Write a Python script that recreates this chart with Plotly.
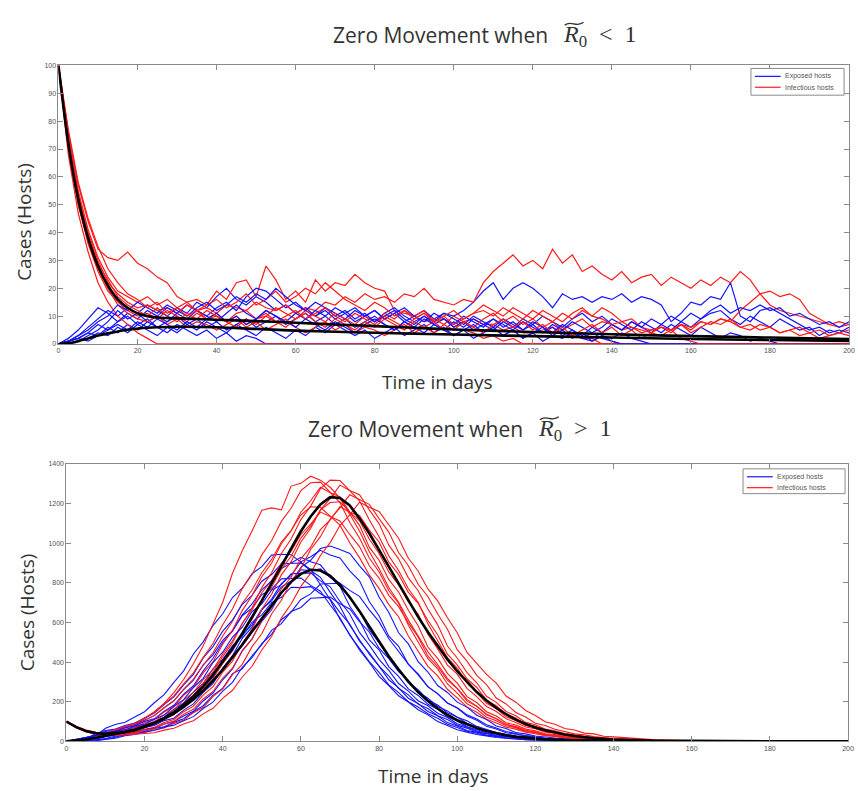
import plotly.graph_objects as go

W, H = 858, 791

# ---------------- time grids (days) ----------------
days_low = [i * 2.5 for i in range(81)]                              # 0 .. 200
days_high = [i * 2.5 for i in range(57)] + [150, 160, 170, 180, 190, 200]

# ---------------- R0 < 1 : stochastic realisations ----------------
inf_low = [
    [100, 76, 57, 44, 34, 31, 30, 33, 29, 27, 24, 22, 17, 15, 16, 14, 19, 16, 22, 23,
     17, 28, 23, 16, 19, 15, 23, 19, 22, 21, 25, 22, 20, 19, 12, 11, 10, 12, 8, 9,
     6, 8, 9, 7, 7, 5, 6, 4, 4, 5, 6, 4, 3, 2, 2, 0, 0, 0, 0, 0,
     0, 0, 0, 0, 0, 0, 0, 0, 0, 0, 0, 0, 0, 0, 0, 0, 0, 0, 0, 0, 0],
    [100, 73, 53, 40, 30, 22, 18, 15, 13, 14, 12, 13, 11, 14, 12, 13, 11, 14, 13, 12,
     15, 13, 12, 14, 11, 13, 12, 15, 14, 17, 15, 18, 16, 17, 15, 18, 17, 20, 16, 15,
     14, 16, 15, 22, 26, 29, 32, 28, 30, 27, 34, 29, 32, 26, 28, 25, 23, 26, 22, 24,
     25, 21, 24, 22, 20, 23, 21, 24, 22, 26, 23, 18, 14, 12, 11, 10, 9, 8, 7, 8, 7],
    [100, 70, 50, 36, 26, 19, 15, 12, 10, 11, 9, 12, 10, 8, 11, 9, 10, 8, 11, 12,
     9, 10, 13, 11, 9, 12, 10, 8, 11, 9, 7, 10, 8, 11, 9, 12, 10, 8, 9, 7,
     10, 8, 6, 9, 11, 8, 10, 7, 9, 6, 8, 5, 7, 9, 6, 8, 7, 5, 6, 4,
     5, 6, 4, 7, 5, 8, 7, 9, 8, 12, 15, 18, 19, 17, 18, 16, 11, 9, 7, 6, 7],
    [100, 68, 47, 33, 22, 15, 10, 7, 4, 2, 0, 0, 0, 0, 0, 0, 0, 0, 0, 0,
     0, 0, 0, 0, 0, 0, 0, 0, 0, 0, 0, 0, 0, 0, 0, 0, 0, 0, 0, 0,
     0, 0, 0, 0, 0, 0, 0, 0, 0, 0, 0, 0, 0, 0, 0, 0, 0, 0, 0, 0,
     0, 0, 0, 0, 0, 0, 0, 0, 0, 0, 0, 0, 0, 0, 0, 0, 0, 0, 0, 0, 0],
    [100, 75, 55, 41, 31, 24, 19, 17, 15, 17, 14, 16, 13, 15, 12, 14, 16, 13, 15, 18,
     14, 16, 19, 15, 17, 20, 18, 22, 19, 16, 14, 12, 15, 13, 10, 12, 9, 11, 8, 10,
     7, 9, 11, 12, 10, 13, 11, 9, 12, 10, 8, 11, 9, 12, 10, 13, 11, 8, 9, 6,
     5, 6, 5, 7, 4, 6, 8, 7, 9, 6, 5, 7, 6, 4, 5, 3, 4, 2, 3, 4, 3],
    [100, 71, 50, 37, 27, 20, 14, 11, 9, 8, 10, 7, 9, 6, 8, 7, 5, 7, 9, 6,
     8, 5, 7, 9, 6, 4, 6, 8, 5, 7, 4, 6, 5, 3, 5, 7, 4, 6, 8, 5,
     3, 5, 4, 2, 3, 1, 2, 0, 0, 0, 0, 0, 0, 0, 0, 0, 0, 0, 0, 0,
     0, 0, 0, 0, 0, 0, 0, 0, 0, 0, 0, 0, 0, 0, 0, 0, 0, 0, 0, 0, 0],
    [100, 77, 58, 45, 35, 27, 22, 18, 16, 13, 15, 11, 13, 10, 12, 9, 11, 8, 10, 7,
     9, 11, 8, 10, 12, 9, 11, 13, 10, 8, 11, 9, 7, 10, 8, 6, 9, 11, 8, 10,
     12, 9, 11, 14, 12, 10, 13, 11, 9, 12, 10, 8, 11, 13, 10, 9, 7, 8, 6, 5,
     4, 6, 5, 7, 6, 8, 7, 9, 8, 6, 7, 5, 6, 4, 5, 6, 4, 5, 3, 4, 5],
    [100, 72, 54, 39, 29, 23, 17, 14, 12, 10, 13, 10, 8, 11, 9, 12, 10, 8, 6, 9,
     7, 10, 8, 6, 9, 11, 8, 6, 9, 7, 5, 8, 6, 9, 7, 5, 8, 6, 4, 7,
     5, 8, 6, 4, 7, 9, 6, 8, 5, 7, 4, 6, 3, 5, 7, 4, 6, 3, 5, 2,
     4, 3, 5, 2, 1, 0, 0, 0, 0, 0, 0, 0, 0, 0, 0, 0, 0, 0, 0, 0, 0],
]

exp_low = [
    [0, 1, 3, 6, 9, 12, 10, 13, 11, 14, 12, 10, 13, 11, 15, 13, 17, 20, 16, 14,
     17, 15, 12, 14, 11, 13, 10, 12, 9, 11, 13, 10, 12, 9, 11, 8, 10, 12, 9, 11,
     10, 12, 15, 19, 22, 16, 20, 22, 20, 17, 13, 18, 16, 17, 15, 17, 16, 18, 15, 17,
     16, 14, 8, 11, 15, 14, 17, 16, 22, 10, 8, 12, 13, 11, 9, 7, 5, 6, 4, 5, 4],
    [0, 1, 2, 4, 7, 5, 8, 11, 9, 12, 10, 8, 11, 14, 12, 10, 13, 15, 12, 17,
     20, 19, 16, 13, 15, 12, 10, 13, 11, 9, 12, 10, 8, 11, 13, 10, 8, 10, 7, 9,
     6, 8, 5, 7, 9, 6, 8, 5, 7, 4, 6, 3, 5, 2, 4, 2, 1, 0, 0, 0,
     0, 0, 0, 0, 0, 0, 0, 0, 0, 0, 0, 0, 0, 0, 0, 0, 0, 0, 0, 0, 0],
    [0, 2, 5, 9, 13, 11, 8, 10, 7, 9, 6, 8, 10, 7, 9, 6, 8, 5, 7, 9,
     6, 8, 10, 7, 9, 11, 8, 10, 7, 9, 6, 8, 10, 7, 5, 8, 6, 4, 7, 5,
     8, 6, 9, 7, 5, 8, 6, 9, 7, 10, 8, 6, 9, 11, 8, 10, 7, 5, 8, 6,
     4, 7, 5, 8, 6, 9, 11, 12, 9, 7, 10, 8, 6, 9, 7, 5, 6, 3, 5, 4, 6],
    [0, 1, 2, 4, 3, 6, 4, 7, 5, 8, 6, 4, 7, 5, 3, 5, 2, 4, 1, 3,
     2, 0, 0, 0, 0, 0, 0, 0, 0, 0, 0, 0, 0, 0, 0, 0, 0, 0, 0, 0,
     0, 0, 0, 0, 0, 0, 0, 0, 0, 0, 0, 0, 0, 0, 0, 0, 0, 0, 0, 0,
     0, 0, 0, 0, 0, 0, 0, 0, 0, 0, 0, 0, 0, 0, 0, 0, 0, 0, 0, 0, 0],
    [0, 0, 1, 3, 5, 8, 12, 9, 11, 8, 10, 13, 11, 9, 12, 10, 8, 11, 14, 11,
     9, 12, 10, 8, 11, 9, 12, 10, 13, 11, 8, 10, 12, 9, 11, 13, 10, 8, 11, 9,
     7, 10, 8, 6, 9, 7, 5, 8, 6, 4, 7, 5, 8, 6, 4, 6, 9, 7, 5, 8,
     6, 4, 7, 5, 3, 6, 4, 2, 4, 3, 1, 2, 1, 0, 0, 0, 0, 0, 0, 0, 0],
    [0, 0, 1, 2, 4, 3, 6, 4, 7, 5, 3, 6, 4, 7, 5, 8, 6, 4, 7, 5,
     3, 6, 4, 2, 5, 3, 6, 4, 7, 5, 3, 5, 2, 4, 6, 3, 5, 7, 4, 6,
     3, 5, 2, 4, 6, 3, 5, 2, 4, 1, 3, 2, 4, 2, 1, 3, 2, 4, 2, 1,
     0, 0, 0, 0, 0, 0, 0, 0, 0, 0, 0, 0, 0, 0, 0, 0, 0, 0, 0, 0, 0],
    [0, 1, 3, 5, 8, 10, 14, 12, 15, 13, 11, 14, 12, 10, 13, 15, 12, 14, 17, 15,
     18, 16, 20, 17, 14, 12, 15, 13, 10, 12, 9, 11, 8, 10, 12, 9, 7, 10, 8, 11,
     9, 7, 10, 8, 6, 9, 7, 5, 8, 6, 4, 7, 5, 3, 6, 4, 7, 5, 8, 6,
     9, 7, 10, 8, 11, 9, 12, 14, 11, 13, 12, 14, 12, 13, 10, 11, 9, 7, 8, 6, 8],
    [0, 1, 2, 1, 3, 5, 7, 5, 8, 6, 9, 7, 5, 8, 6, 9, 11, 8, 10, 7,
     9, 12, 10, 8, 6, 9, 7, 5, 8, 6, 4, 7, 9, 7, 5, 8, 6, 9, 7, 5,
     3, 5, 7, 4, 6, 3, 5, 2, 4, 6, 3, 5, 2, 4, 1, 3, 1, 0, 0, 0,
     0, 0, 0, 0, 0, 0, 0, 0, 0, 0, 0, 0, 0, 0, 0, 0, 0, 0, 0, 0, 0],
]

# deterministic (mean-field) curves, R0 < 1
det_days_low = [0, 2.5, 5, 7.5, 10, 12.5, 15, 17.5, 20, 22.5, 25, 30, 40, 50,
                60, 70, 80, 90, 100, 120, 140, 160, 180, 200]
det_inf_low = [100, 72, 52, 38, 28, 21, 16, 13, 11, 10, 9.5, 9.2, 8.7, 8.2,
               7.6, 7.0, 6.4, 5.8, 5.2, 4.3, 3.5, 2.8, 2.3, 1.8]
det_exp_low = [0, 0.3, 1, 2, 3, 3.8, 4.5, 5.1, 5.5, 5.8, 6.0, 6.2, 6.0, 5.4,
               4.8, 4.4, 4.0, 3.7, 3.4, 2.8, 2.3, 1.8, 1.4, 1.1]

# ---------------- R0 > 1 : stochastic realisations ----------------
inf_high = [
    [100, 74, 55, 44, 42, 50, 66, 86, 116, 150, 192, 246, 312, 392, 482, 590, 702, 848, 962, 1062,
     1166, 1178, 1168, 1288, 1302, 1338, 1318, 1282, 1228, 1146, 1062, 958, 872, 776, 702, 612, 534, 452, 388, 318,
     268, 212, 178, 138, 114, 86, 72, 54, 44, 33, 27, 19, 16, 11, 9, 7, 5, 2, 0, 0, 0, 0, 0],
    [100, 70, 51, 40, 38, 55, 69, 82, 108, 131, 170, 205, 262, 314, 384, 447, 532, 606, 697, 764,
     851, 918, 1006, 1064, 1142, 1184, 1181, 1137, 1091, 1002, 927, 840, 772, 690, 629, 532, 456, 379, 331, 263,
     220, 174, 147, 112, 93, 72, 62, 46, 39, 29, 25, 17, 15, 11, 10, 8, 6, 2, 1, 0, 0, 0, 0],
    [100, 76, 57, 46, 43, 60, 77, 91, 119, 146, 189, 230, 291, 346, 424, 494, 589, 668, 771, 842,
     941, 1012, 1110, 1176, 1265, 1305, 1308, 1254, 1205, 1104, 1026, 925, 856, 760, 697, 586, 505, 417, 366, 290,
     244, 190, 163, 122, 104, 79, 69, 50, 44, 32, 28, 19, 17, 12, 11, 8, 6, 3, 1, 0, 0, 0, 0],
    [100, 71, 50, 39, 35, 38, 55, 63, 85, 99, 134, 160, 209, 247, 312, 362, 441, 508, 596, 664,
     750, 812, 899, 960, 1044, 1096, 1157, 1133, 1112, 1044, 983, 886, 824, 737, 680, 598, 527, 430, 378, 309,
     266, 203, 177, 135, 115, 85, 75, 56, 48, 35, 31, 22, 19, 13, 12, 9, 7, 3, 1, 0, 0, 0, 0],
    [100, 73, 53, 42, 38, 41, 61, 70, 94, 110, 148, 176, 232, 273, 346, 401, 490, 561, 660, 736,
     831, 899, 997, 1063, 1156, 1214, 1282, 1255, 1233, 1157, 1090, 980, 914, 816, 754, 662, 584, 476, 419, 343,
     294, 226, 196, 150, 128, 94, 83, 62, 54, 39, 35, 24, 21, 14, 13, 9, 8, 3, 1, 0, 0, 0, 0],
    [100, 71, 51, 40, 36, 39, 48, 54, 71, 84, 111, 134, 176, 212, 270, 318, 392, 456, 545, 616,
     712, 778, 869, 934, 1026, 1086, 1168, 1205, 1209, 1158, 1113, 1021, 948, 855, 790, 704, 643, 541, 467, 385,
     339, 268, 226, 176, 151, 114, 96, 73, 64, 47, 41, 29, 26, 18, 16, 11, 10, 4, 1, 0, 0, 0, 0],
    [100, 73, 53, 42, 38, 42, 52, 59, 78, 91, 121, 147, 191, 231, 294, 349, 428, 498, 594, 673,
     776, 851, 948, 1021, 1119, 1187, 1275, 1318, 1316, 1267, 1214, 1118, 1033, 936, 862, 770, 702, 593, 509, 422,
     370, 294, 247, 192, 166, 124, 106, 80, 70, 51, 45, 32, 29, 19, 17, 12, 11, 4, 1, 0, 0, 0, 0],
    [100, 72, 52, 40, 35, 37, 44, 47, 61, 71, 95, 111, 150, 178, 234, 276, 349, 405, 495, 566,
     667, 742, 840, 907, 1006, 1074, 1168, 1225, 1293, 1266, 1245, 1168, 1099, 990, 921, 825, 760, 668, 588, 481,
     421, 347, 296, 228, 197, 151, 129, 96, 84, 63, 54, 40, 35, 25, 21, 15, 13, 5, 2, 0, 0, 0, 0],
    [100, 71, 50, 38, 33, 34, 37, 42, 45, 59, 68, 91, 107, 145, 171, 226, 265, 337, 389, 478,
     543, 643, 712, 808, 873, 968, 1033, 1122, 1178, 1244, 1219, 1196, 1124, 1056, 953, 886, 793, 731, 643, 566,
     463, 405, 333, 286, 219, 189, 146, 123, 92, 80, 61, 51, 38, 33, 24, 20, 14, 6, 2, 1, 0, 0, 0],
    [100, 70, 49, 37, 31, 31, 33, 36, 41, 44, 57, 66, 88, 104, 139, 167, 217, 258, 325, 379,
     461, 529, 622, 693, 782, 849, 938, 1003, 1089, 1143, 1207, 1181, 1160, 1090, 1025, 924, 860, 769, 709, 624,
     548, 449, 396, 338, 294, 229, 198, 156, 131, 99, 87, 65, 58, 42, 38, 26, 23, 9, 3, 1, 0, 0, 0],
    [100, 70, 50, 39, 34, 35, 40, 43, 57, 64, 88, 101, 137, 162, 214, 252, 320, 370, 455, 516,
     612, 676, 770, 828, 922, 980, 1068, 1118, 1184, 1156, 1140, 1066, 1006, 904, 842, 752, 696, 610, 538, 440,
     386, 316, 272, 208, 180, 138, 118, 86, 76, 57, 49, 36, 31, 23, 18, 14, 11, 4, 1, 0, 0, 0, 0],
]

exp_high = [
    [0, 5, 14, 27, 66, 85, 97, 124, 150, 195, 236, 298, 356, 441, 502, 584, 644, 726, 773, 846,
     882, 940, 944, 942, 905, 866, 790, 714, 616, 540, 462, 398, 328, 282, 230, 199, 160, 134, 101, 80,
     59, 47, 35, 28, 20, 16, 11, 9, 7, 5, 4, 3, 2, 2, 1, 1, 0, 0, 0, 0, 0, 0, 0],
    [0, 4, 11, 36, 50, 57, 74, 85, 108, 130, 170, 205, 262, 309, 386, 437, 510, 559, 634, 672,
     740, 768, 820, 821, 824, 787, 758, 688, 624, 536, 472, 403, 348, 285, 246, 200, 174, 140, 117, 87,
     70, 51, 41, 30, 25, 17, 14, 9, 8, 6, 5, 4, 3, 2, 2, 1, 1, 0, 0, 0, 0, 0, 0],
    [0, 3, 12, 40, 55, 62, 80, 93, 117, 143, 186, 225, 285, 338, 421, 478, 556, 612, 692, 737,
     808, 842, 896, 899, 900, 862, 828, 752, 682, 586, 516, 440, 380, 311, 270, 218, 191, 151, 129, 95,
     78, 55, 46, 32, 27, 18, 15, 10, 9, 6, 5, 4, 3, 2, 2, 1, 1, 0, 0, 0, 0, 0, 0],
    [0, 9, 17, 29, 34, 47, 54, 71, 80, 103, 122, 162, 194, 248, 292, 366, 414, 483, 530, 601,
     638, 700, 727, 778, 776, 781, 745, 718, 650, 592, 506, 447, 380, 330, 268, 235, 188, 166, 130, 111,
     82, 67, 48, 39, 28, 24, 16, 13, 9, 8, 6, 5, 4, 3, 2, 2, 1, 0, 0, 0, 0, 0, 0],
    [0, 8, 19, 30, 44, 51, 69, 78, 101, 114, 152, 182, 238, 281, 356, 418, 499, 556, 638, 694,
     765, 810, 872, 900, 929, 906, 891, 830, 781, 682, 611, 512, 462, 376, 328, 265, 232, 187, 162, 124,
     103, 74, 60, 44, 36, 26, 21, 14, 12, 8, 7, 5, 4, 3, 2, 2, 1, 0, 0, 0, 0, 0, 0],
    [0, 0, 3, 8, 15, 26, 32, 44, 50, 66, 74, 96, 114, 150, 180, 232, 268, 342, 366, 432,
     488, 560, 594, 655, 676, 722, 726, 728, 694, 668, 604, 552, 470, 418, 352, 308, 250, 218, 176, 154,
     122, 104, 76, 62, 45, 36, 26, 22, 15, 12, 8, 7, 5, 4, 3, 3, 2, 1, 0, 0, 0, 0, 0],
    [0, 3, 11, 18, 32, 38, 53, 60, 78, 89, 114, 137, 179, 216, 276, 325, 406, 459, 538, 588,
     668, 709, 779, 808, 866, 862, 871, 826, 798, 722, 658, 562, 498, 422, 367, 298, 261, 209, 184, 145,
     123, 92, 74, 54, 43, 32, 26, 18, 14, 10, 8, 6, 5, 4, 3, 2, 2, 1, 0, 0, 0, 0, 0],
    [0, 0, 5, 10, 24, 31, 46, 52, 71, 80, 105, 117, 158, 189, 247, 291, 370, 433, 520, 576,
     663, 718, 796, 838, 906, 932, 964, 940, 926, 860, 810, 706, 634, 531, 480, 389, 341, 275, 241, 193,
     168, 128, 107, 76, 63, 44, 37, 27, 21, 14, 12, 9, 8, 6, 4, 3, 2, 1, 0, 0, 0, 0, 0],
    [0, 0, 0, 5, 12, 21, 36, 43, 59, 67, 88, 101, 128, 152, 204, 244, 311, 366, 458, 518,
     606, 664, 752, 800, 878, 914, 973, 986, 968, 948, 886, 830, 728, 650, 548, 492, 402, 350, 282, 247,
     198, 173, 132, 110, 78, 65, 45, 38, 27, 22, 15, 12, 9, 8, 6, 5, 3, 1, 0, 0, 0, 0, 0],
    [0, 0, 1, 4, 10, 16, 29, 35, 48, 55, 72, 82, 104, 125, 166, 198, 254, 298, 374, 422,
     494, 540, 614, 652, 716, 744, 794, 796, 798, 762, 732, 664, 604, 518, 456, 390, 336, 276, 240, 194,
     170, 134, 113, 84, 68, 50, 40, 29, 24, 16, 13, 10, 7, 6, 5, 4, 3, 1, 0, 0, 0, 0, 0],
    [0, 8, 19, 31, 37, 51, 58, 77, 87, 112, 133, 176, 211, 272, 318, 398, 450, 526, 576, 655,
     694, 763, 791, 846, 848, 850, 810, 780, 706, 643, 550, 486, 414, 358, 292, 254, 205, 180, 142, 121,
     89, 73, 53, 42, 30, 26, 18, 15, 10, 9, 6, 5, 4, 3, 2, 2, 1, 0, 0, 0, 0, 0, 0],
]

# deterministic (mean-field) curves, R0 > 1
det_inf_high = [100, 72, 53, 42, 38, 41, 47, 57, 72, 92, 117, 148, 185, 228, 278, 336, 400, 470, 545, 625,
                710, 797, 885, 975, 1060, 1135, 1195, 1232, 1228, 1190, 1125, 1050, 965, 878, 792, 708, 628, 552, 480, 414,
                354, 299, 249, 206, 169, 137, 110, 88, 70, 56, 44, 35, 27, 21, 16, 13, 10, 4, 1.5, 0.5, 0, 0, 0]
det_exp_high = [0, 4, 10, 18, 27, 37, 48, 60, 75, 93, 115, 142, 174, 212, 256, 306, 362, 423, 488, 555,
                622, 688, 750, 805, 845, 866, 862, 835, 788, 727, 657, 580, 503, 430, 363, 302, 249, 204, 166, 134,
                107, 85, 67, 52, 40, 31, 24, 18, 14, 11, 8, 6, 5, 4, 3, 2, 2, 1, 0, 0, 0, 0, 0]

x_ticks = [0, 20, 40, 60, 80, 100, 120, 140, 160, 180, 200]
y_ticks_low = [0, 10, 20, 30, 40, 50, 60, 70, 80, 90, 100]
y_ticks_high = [0, 200, 400, 600, 800, 1000, 1200, 1400]

BLUE = "#1414ff"
RED = "#ff1a1a"
legend_names = ["Exposed hosts", "Infectious hosts"]


def px_x(v):
    return v / W


def px_y(v):
    return 1 - v / H


fig = go.Figure()


def add_runs(days, inf_runs, exp_runs, xa, ya, width):
    n = max(len(inf_runs), len(exp_runs))
    for k in range(n):
        if k < len(exp_runs):
            y = exp_runs[k]
            fig.add_trace(go.Scatter(x=days[:len(y)], y=y, mode="lines", xaxis=xa, yaxis=ya,
                                     line=dict(color=BLUE, width=width), showlegend=False,
                                     hoverinfo="skip"))
        if k < len(inf_runs):
            y = inf_runs[k]
            fig.add_trace(go.Scatter(x=days[:len(y)], y=y, mode="lines", xaxis=xa, yaxis=ya,
                                     line=dict(color=RED, width=width), showlegend=False,
                                     hoverinfo="skip"))


add_runs(days_low, inf_low, exp_low, "x", "y", 1.2)
add_runs(days_high, inf_high, exp_high, "x2", "y2", 1.1)

for xs, ys, xa, ya, shape in [(det_days_low, det_inf_low, "x", "y", "spline"),
                              (det_days_low, det_exp_low, "x", "y", "spline"),
                              (days_high, det_inf_high, "x2", "y2", "linear"),
                              (days_high, det_exp_high, "x2", "y2", "linear")]:
    fig.add_trace(go.Scatter(x=xs[:len(ys)], y=ys, mode="lines", xaxis=xa, yaxis=ya,
                             line=dict(color="black", width=2.6, shape=shape),
                             showlegend=False, hoverinfo="skip"))

AX = dict(showline=True, linecolor="#8a8a8a", linewidth=1, mirror="allticks",
          ticks="inside", ticklen=5, tickcolor="#8a8a8a", tickwidth=1,
          showgrid=False, zeroline=False, ticklabeloverflow="allow",
          tickfont=dict(family="Liberation Sans", size=7, color="#505050"))

fig.update_layout(
    width=W, height=H, margin=dict(l=0, r=0, t=0, b=0),
    paper_bgcolor="white", plot_bgcolor="white", showlegend=False,
    xaxis=dict(AX, domain=[px_x(57), px_x(855)], range=[0, 200], tickvals=x_ticks, anchor="y"),
    yaxis=dict(AX, domain=[px_y(343), px_y(62)], range=[0, 100], tickvals=y_ticks_low, anchor="x"),
    xaxis2=dict(AX, domain=[px_x(65), px_x(854)], range=[0, 200], tickvals=x_ticks, anchor="y2"),
    yaxis2=dict(AX, domain=[px_y(744), px_y(464)], range=[0, 1400], tickvals=y_ticks_high, anchor="x2"),
)

TXT = "#333333"
SANS = "Open Sans"
SERIF = "Liberation Serif"
annos = []
shapes = []

# panel titles: sans text, then the math part R_0 <> 1 in serif with a wide tilde over R
for sans_right, math_left, cy, sign in [(553, 564, 31, "&lt;"), (528, 539, 429, "&gt;")]:
    annos.append(dict(text="Zero Movement when", x=px_x(sans_right), y=px_y(cy),
                      xref="paper", yref="paper", showarrow=False,
                      xanchor="right", yanchor="middle",
                      font=dict(family=SANS, size=21, color=TXT)))
    annos.append(dict(text="<i>R</i><sub>0</sub>&nbsp;&nbsp;" + sign + "&nbsp;&nbsp;1",
                      x=px_x(math_left), y=px_y(cy + 1),
                      xref="paper", yref="paper", showarrow=False,
                      xanchor="left", yanchor="middle",
                      font=dict(family=SERIF, size=24, color=TXT)))
    a, yc = math_left + 4, cy - 11
    pts = [(a, yc + 1.5), (a + 6, yc - 4.5), (a + 12, yc + 4.5), (a + 19, yc - 1.5)]
    path = "M {:.5f},{:.5f} C {:.5f},{:.5f} {:.5f},{:.5f} {:.5f},{:.5f}".format(
        *[c for p in pts for c in (px_x(p[0]), px_y(p[1]))])
    shapes.append(dict(type="path", path=path, xref="paper", yref="paper",
                       line=dict(color=TXT, width=1.3)))

for cx, cy in [(440, 381), (436, 779)]:
    annos.append(dict(text="Time in days", x=px_x(cx), y=px_y(cy), xref="paper", yref="paper",
                      showarrow=False, xanchor="center", yanchor="middle",
                      font=dict(family=SANS, size=19, color=TXT)))

for cx, cy in [(22, 220), (25, 614)]:
    annos.append(dict(text="Cases (Hosts)", x=px_x(cx), y=px_y(cy), xref="paper", yref="paper",
                      showarrow=False, xanchor="center", yanchor="middle", textangle=-90,
                      font=dict(family=SANS, size=19, color=TXT)))

# legend boxes drawn in pixel coordinates
for (x0, y0, x1, y1) in [(756, 65, 850, 92), (748, 469, 851, 494)]:
    shapes.append(dict(type="rect", xref="paper", yref="paper",
                       x0=px_x(x0), x1=px_x(x1), y0=px_y(y1), y1=px_y(y0),
                       line=dict(color="#8a8a8a", width=1), fillcolor="white", layer="above"))
    rows = [(y0 + 8, BLUE, legend_names[0]), (y0 + 19, RED, legend_names[1])]
    for ly, col, name in rows:
        shapes.append(dict(type="line", xref="paper", yref="paper",
                           x0=px_x(x0 + 4), x1=px_x(x0 + 30), y0=px_y(ly), y1=px_y(ly),
                           line=dict(color=col, width=1.2), layer="above"))
        annos.append(dict(text=name, x=px_x(x0 + 32), y=px_y(ly), xref="paper", yref="paper",
                          showarrow=False, xanchor="left", yanchor="middle",
                          font=dict(family="Liberation Sans", size=7, color="#555555")))

fig.update_layout(annotations=annos, shapes=shapes)

fig.write_html("out.html")
